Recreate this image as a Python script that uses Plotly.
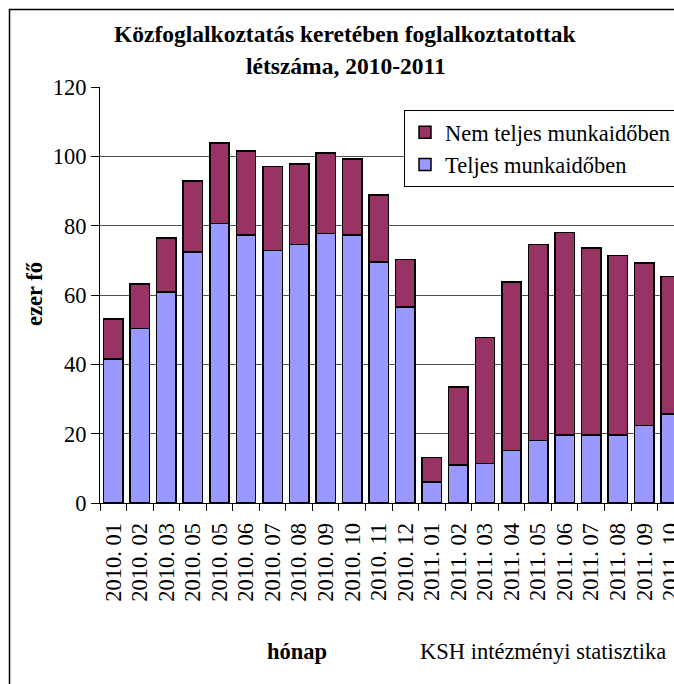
import plotly.graph_objects as go

# ---- data ----
months = ["2010. 01", "2010. 02", "2010. 03", "2010. 05", "2010. 05", "2010. 06",
          "2010. 07", "2010. 08", "2010. 09", "2010. 10", "2010. 11", "2010. 12",
          "2011. 01", "2011. 02", "2011. 03", "2011. 04", "2011. 05", "2011. 06",
          "2011. 07", "2011. 08", "2011. 09", "2011. 10"]
teljes = [41.5, 50.4, 60.8, 72.4, 80.6, 77.3, 72.9, 74.6, 77.8, 77.3, 69.5, 56.5,
          6.0, 10.9, 11.4, 15.2, 18.1, 19.6, 19.6, 19.6, 22.4, 25.7]
nem_teljes = [11.6, 12.8, 15.7, 20.5, 23.2, 24.3, 24.2, 23.2, 23.2, 22.0, 19.3, 13.7,
              7.1, 22.5, 36.3, 48.5, 56.5, 58.4, 54.0, 51.8, 46.8, 39.6]
y_ticks = [0, 20, 40, 60, 80, 100, 120]

positions = list(range(len(months)))
boundaries = [p - 0.5 for p in positions] + [positions[-1] + 0.5]

W, H = 674, 684
L, R, T, B = 100, 0, 87, 181
pw, ph = W - L - R, H - T - B


def px(x):
    return (x - L) / pw


def py(y):
    return (H - B - y) / ph


FONT = "Liberation Serif, Times New Roman, serif"
BLUE = "#9999FF"
RED = "#993366"

fig = go.Figure()
fig.add_trace(go.Bar(x=positions, y=teljes, name="Teljes munkaidőben",
                     marker=dict(color=BLUE, line=dict(color="black", width=1.5))))
fig.add_trace(go.Bar(x=positions, y=nem_teljes, name="Nem teljes munkaidőben",
                     marker=dict(color=RED, line=dict(color="black", width=1.5))))

x_range = [-0.5, -0.5 + pw / 26.55]

fig.update_layout(
    width=W, height=H,
    margin=dict(l=L, r=R, t=T, b=B, autoexpand=False),
    paper_bgcolor="white", plot_bgcolor="white",
    barmode="stack", bargap=0.27,
    font=dict(family=FONT, size=22.5, color="black"),
    showlegend=True,
    legend=dict(x=px(404), y=py(110), xanchor="left", yanchor="top",
                traceorder="reversed", bgcolor="white",
                bordercolor="black", borderwidth=1,
                font=dict(family=FONT, size=22.5, color="black")),
    xaxis=dict(range=x_range, tickmode="array", tickvals=positions, ticktext=months,
               tickangle=-90, ticks="", showgrid=False, showline=True,
               linecolor="black", linewidth=1, zeroline=False,
               tickfont=dict(family=FONT, size=22.5, color="black"),
               ticklabelstandoff=10, ticklabeloverflow="allow"),
    xaxis2=dict(range=x_range, overlaying="x", anchor="y", side="bottom",
                tickmode="array", tickvals=boundaries, showticklabels=False,
                ticks="outside", ticklen=7, tickcolor="black", tickwidth=1,
                showgrid=False, showline=False, zeroline=False),
    yaxis=dict(range=[0, 120], tickmode="array", tickvals=y_ticks,
               ticks="outside", ticklen=8, tickcolor="black", tickwidth=1,
               showgrid=True, gridcolor="#505050", gridwidth=1,
               showline=True, linecolor="black", linewidth=1, zeroline=False,
               tickfont=dict(family=FONT, size=22.5, color="black")),
)

# helper invisible trace so xaxis2 is rendered
fig.add_trace(go.Scatter(x=[positions[0]], y=[0], xaxis="x2", mode="markers",
                         marker=dict(opacity=0), showlegend=False, hoverinfo="skip"))

annotations = [
    dict(text="<b>Közfoglalkoztatás keretében foglalkoztatottak</b>", x=px(345), y=py(34),
         font=dict(size=23.5)),
    dict(text="<b>létszáma, 2010-2011</b>", x=px(346), y=py(66), font=dict(size=23.5)),
    dict(text="<b>ezer fő</b>", x=px(34), y=py(294), textangle=-90),
    dict(text="<b>hónap</b>", x=px(297), y=py(651)),
    dict(text="KSH intézményi statisztika", x=px(418), y=py(651), xanchor="left"),
]
for a in annotations:
    a.setdefault("xanchor", "center")
    fig.add_annotation(xref="paper", yref="paper", showarrow=False, yanchor="middle",
                       font=dict(family=FONT, size=a.pop("font", {}).get("size", 22.5),
                                 color="black"), **a)

# outer chart frame (cropped at right and bottom like the original)
fig.add_shape(type="rect", xref="paper", yref="paper",
              x0=px(9.5), x1=px(720), y0=py(720), y1=py(9.5),
              line=dict(color="black", width=1.5), fillcolor="rgba(0,0,0,0)", layer="above")

fig.write_html("out.html",
               config={"displayModeBar": False},
               post_script="document.body.style.margin='0';"
                           "document.body.style.overflow='hidden';"
                           "document.documentElement.style.overflow='hidden';")
